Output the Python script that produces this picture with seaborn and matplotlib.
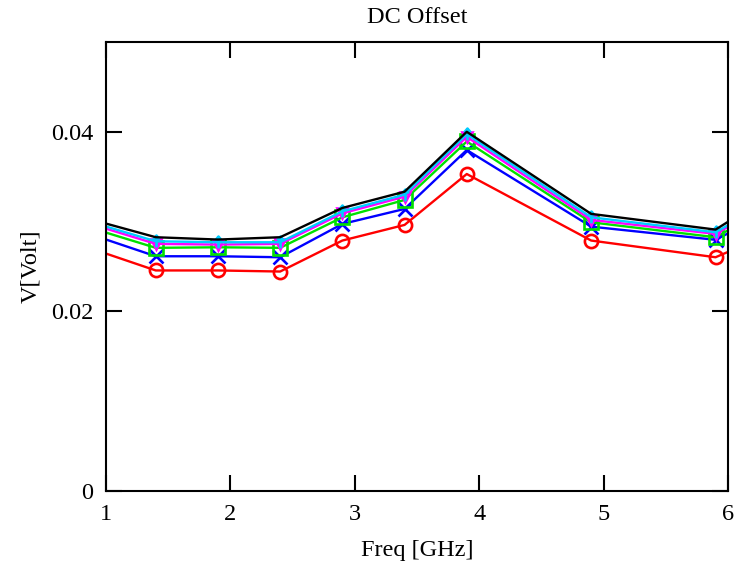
import numpy as np
import pandas as pd
import matplotlib
matplotlib.use("Agg")
import matplotlib.pyplot as plt
from matplotlib.path import Path
import seaborn as sns

# Frequency sweep points (GHz); the first and last sit just outside the view
freq = [0.9, 1.4, 1.9, 2.4, 2.9, 3.4, 3.9, 4.9, 5.9, 6.4]

# DC offset (V) per trace
dc_black = [0.03016, 0.02826, 0.02800, 0.02826, 0.03152, 0.03333, 0.04000, 0.03086, 0.02911, 0.03344]
dc_cyan = [0.02986, 0.02781, 0.02770, 0.02770, 0.03114, 0.03300, 0.03974, 0.03048, 0.02881, 0.03278]
dc_magenta = [0.02964, 0.02752, 0.02744, 0.02752, 0.03092, 0.03278, 0.03944, 0.03019, 0.02863, 0.03256]
dc_green = [0.02920, 0.02708, 0.02714, 0.02708, 0.03048, 0.03241, 0.03892, 0.02992, 0.02826, 0.03211]
dc_blue = [0.02847, 0.02614, 0.02614, 0.02603, 0.02974, 0.03141, 0.03797, 0.02944, 0.02797, 0.03156]
dc_red = [0.02691, 0.02456, 0.02456, 0.02444, 0.02789, 0.02963, 0.03530, 0.02789, 0.02603, 0.02900]

xticks = [1, 2, 3, 4, 5, 6]
yticks = [0, 0.02, 0.04]
ytick_labels = ["0", "0.02", "0.04"]

sns.set_style("ticks")
plt.rcParams["font.family"] = ["Liberation Serif", "DejaVu Serif"]
plt.rcParams["text.color"] = "black"
plt.rcParams["axes.labelcolor"] = "black"
plt.rcParams["xtick.color"] = "black"
plt.rcParams["ytick.color"] = "black"

fig = plt.figure(figsize=(7.39, 5.63), dpi=100)
ax = fig.add_axes([106 / 739, 1 - 491 / 563, (728 - 106) / 739, (491 - 42) / 563])

arrow_up = Path(
    [(0, -1), (0, 1), (-0.55, 0.35), (0, 1), (0.55, 0.35)],
    [Path.MOVETO, Path.LINETO, Path.MOVETO, Path.LINETO, Path.LINETO],
)

traces = [
    ("red", dc_red, "#ff0000", "o", 9.5),
    ("blue", dc_blue, "#0000ff", "x", 9.5),
    ("green", dc_green, "#00e000", "s", 9.5),
    ("magenta", dc_magenta, "#ff00ff", "v", 7.5),
    ("cyan", dc_cyan, "#00ccff", arrow_up, 8.5),
    ("black", dc_black, "#000000", None, 0),
]

for name, vals, color, marker, ms in traces:
    df = pd.DataFrame({"freq": freq, "dc": vals})
    kw = dict(color=color, linewidth=1.7)
    if marker is not None:
        kw.update(marker=marker, markersize=ms, markerfacecolor="none",
                  markeredgecolor=color, markeredgewidth=1.9)
    sns.lineplot(data=df, x="freq", y="dc", ax=ax, sort=False, **kw)

ax.set_xlim(1, 6)
ax.set_ylim(0, 0.05)
ax.set_xticks(xticks)
ax.set_xticklabels([str(t) for t in xticks])
ax.set_yticks(yticks)
ax.set_yticklabels(ytick_labels)

ax.tick_params(direction="in", length=11.5, width=1.5, top=True, right=True,
               labelsize=17.5, pad=9, colors="black")
for sp in ax.spines.values():
    sp.set_linewidth(1.5)
    sp.set_color("black")
    sp.set_visible(True)

ax.set_title("DC Offset", fontsize=17.5, pad=14, color="black")
ax.set_xlabel("Freq [GHz]", fontsize=17.5, labelpad=11)
ax.set_ylabel("V[Volt]", fontsize=17.5, labelpad=7)

fig.savefig("out.png", dpi=100)
